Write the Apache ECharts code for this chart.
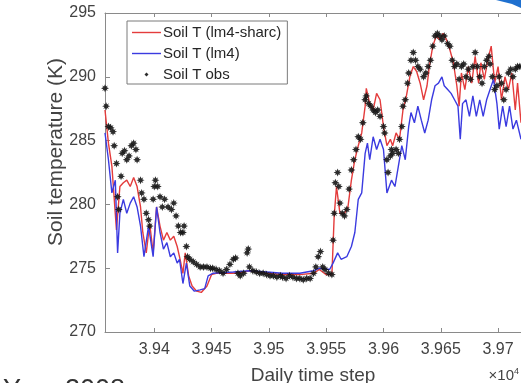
<!DOCTYPE html>
<html>
<head>
<meta charset="utf-8">
<script src="https://cdn.jsdelivr.net/npm/echarts@6/dist/echarts.min.js"></script>
<style>
html,body{margin:0;padding:0;background:#fff;}
#chart{width:521px;height:383px;}
</style>
</head>
<body>
<div id="chart"></div>
<script>
// ---- data ----
const xTicks = [39400, 39450, 39500, 39550, 39600, 39650, 39700];
const yTicks = [270, 275, 280, 285, 290, 295];

const sharcDays = [39357,39360,39363,39367,39370,39373,39376,39379,39382,39385,
  39388,39390,39393,39396,39399,39402,39405,39408,39411,39414,
  39417,39420,39422,39425,39427,39430,39433,39437,39441,39446,
  39450,39454,39469,39478,39483,39498,39512,39527,39539,39544,
  39550,39555,39557,39559,39562,39566,39569,39572,39575,39578,
  39581,39584,39585,39588,39591,39594,39597,39600,39603,39606,
  39608,39611,39614,39617,39620,39623,39626,39629,39632,39635,
  39638,39640,39643,39646,39649,39652,39655,39658,39661,39664,
  39666,39668,39671,39674,39677,39680,39683,39685,39688,39691,
  39694,39697,39700,39703,39706,39709,39712,39715,39717,39720];
const sharcTemps = [287.4,284.8,283.0,278.0,281.4,281.7,281.9,281.4,282.1,281.4,
  279.8,277.8,276.2,278.5,276.2,279.8,278.3,277.2,277.8,277.2,
  277.5,276.7,275.9,274.6,276.2,274.4,273.6,273.2,273.1,273.6,
  274.5,274.6,274.6,274.7,274.8,274.6,274.5,274.5,274.6,274.9,
  274.5,274.5,279.1,281.4,279.3,279.3,279.8,281.9,283.5,284.6,
  285.6,287.7,289.1,287.9,287.4,288.7,288.2,286.1,284.6,285.1,
  284.6,285.6,285.1,287.4,288.5,290.0,290.8,290.4,289.5,288.2,
  289.3,290.8,292.4,293.2,292.9,293.4,292.9,292.1,291.1,289.3,
  287.7,290.3,289.0,290.8,289.5,291.6,289.5,291.1,289.8,291.3,
  292.4,289.5,290.8,288.2,290.0,289.0,290.3,287.4,289.5,286.4];

const lm4Days = [39357,39360,39363,39366,39368,39370,39373,39376,39379,39382,
  39385,39388,39391,39395,39399,39402,39405,39408,39411,39414,
  39417,39420,39422,39425,39428,39431,39435,39440,39444,39447,
  39451,39469,39483,39498,39512,39527,39539,39544,39553,39556,
  39560,39563,39568,39572,39575,39578,39581,39584,39586,39588,
  39591,39594,39597,39600,39603,39607,39610,39613,39616,39619,
  39622,39624,39627,39630,39633,39636,39639,39642,39645,39648,
  39651,39653,39656,39659,39662,39665,39667,39669,39672,39675,
  39678,39681,39684,39687,39690,39693,39696,39699,39701,39704,
  39707,39710,39713,39716,39720];
const lm4Temps = [285.6,283.5,280.9,281.9,276.2,279.3,280.4,279.3,280.1,280.6,
  279.8,278.3,275.9,278.3,275.9,279.8,277.8,276.5,277.0,275.9,
  276.2,275.4,275.7,273.8,275.4,273.6,273.2,273.3,273.4,274.4,
  274.6,274.7,274.8,274.7,274.6,274.6,274.8,275.0,274.9,275.4,
  276.2,275.7,275.9,276.7,277.8,280.4,280.9,284.0,284.8,283.5,
  285.3,284.3,285.1,284.3,280.9,281.9,281.4,283.0,284.6,283.5,
  286.1,287.2,286.4,287.7,286.6,285.6,286.6,288.2,289.3,289.5,
  290.0,289.3,289.0,288.7,288.2,287.7,285.1,287.9,288.2,286.9,
  288.5,286.9,288.2,286.9,288.2,289.0,289.8,287.9,285.9,287.7,
  286.1,287.7,285.9,286.6,285.1];

const obsDays = [39357,39358,39360,39362,39364,39365,39367,39368,39369,39371,
  39372,39374,39376,39378,39380,39382,39384,39385,39388,39389,
  39391,39393,39395,39396,39399,39400,39401,39403,39405,39407,
  39409,39412,39415,39417,39419,39421,39423,39425,39426,39428,
  39429,39431,39434,39437,39440,39443,39446,39449,39451,39454,
  39457,39460,39463,39466,39469,39471,39473,39475,39478,39481,
  39482,39483,39486,39489,39492,39495,39498,39501,39504,39507,
  39510,39512,39515,39518,39521,39524,39527,39530,39533,39536,
  39539,39541,39543,39545,39547,39549,39552,39555,39556,39557,
  39558,39560,39561,39562,39564,39566,39568,39570,39572,39574,
  39576,39578,39580,39582,39584,39585,39587,39589,39591,39593,
  39595,39597,39600,39601,39603,39604,39606,39607,39608,39611,
  39613,39614,39616,39617,39619,39621,39622,39624,39626,39628,
  39630,39632,39635,39637,39639,39641,39643,39645,39647,39649,
  39651,39653,39656,39658,39660,39662,39664,39666,39668,39670,
  39672,39674,39676,39678,39680,39682,39684,39686,39688,39690,
  39692,39693,39695,39697,39699,39701,39703,39705,39707,39709,
  39711,39713,39715,39717,39719];
const obsTemps = [289.1,287.7,286.1,286.0,285.7,284.6,283.2,280.6,279.6,282.2,
  284.0,284.2,283.5,283.8,284.6,284.8,284.3,283.5,281.9,280.9,
  280.4,279.3,278.8,278.3,280.4,281.4,281.9,281.4,280.6,279.8,
  280.4,279.8,279.6,280.1,279.1,278.3,277.8,277.8,278.3,276.7,
  275.9,275.7,275.5,275.3,275.1,275.1,275.1,275.0,275.0,274.9,
  274.8,274.6,274.9,275.3,275.7,275.8,274.6,274.4,274.6,276.2,
  276.5,275.1,274.8,274.7,274.6,274.6,274.5,274.4,274.4,274.3,
  274.4,274.3,274.2,274.4,274.3,274.2,274.2,274.1,274.2,274.2,
  274.6,275.1,275.9,276.3,275.1,274.9,274.6,274.5,277.2,279.3,
  281.7,282.5,281.4,280.1,279.3,279.1,279.6,281.2,282.7,283.5,
  284.3,285.3,285.1,286.4,288.2,288.5,287.9,287.7,287.4,287.2,
  287.4,286.9,286.1,285.6,283.5,282.5,283.8,284.3,284.0,284.3,
  284.0,285.1,286.1,287.7,288.2,289.5,290.3,291.3,291.9,291.3,
  290.8,290.6,290.0,290.3,290.8,291.3,292.4,293.2,293.4,293.2,
  292.9,293.2,292.6,292.4,291.3,290.8,291.0,289.8,290.8,291.0,
  290.0,290.6,289.8,290.8,291.9,290.8,290.0,289.5,290.8,291.3,
  291.6,291.0,290.0,289.0,289.3,290.0,289.5,288.2,289.0,290.3,
  290.6,290.0,290.6,290.8,290.8];

const seriesNames = ['Soil T (lm4-sharc)', 'Soil T (lm4)', 'Soil T obs'];

const pairs = (xs, ys) => xs.map((x, i) => [x, ys[i]]);

const starPath = 'path://M0,-3L0.7,-1.3L2.12,-2.12L1.3,-0.7L3,0L1.3,0.7L2.12,2.12L0.7,1.3L0,3L-0.7,1.3L-2.12,2.12L-1.3,0.7L-3,0L-1.3,-0.7L-2.12,-2.12L-0.7,-1.3Z';
const legendDot = 'path://M0,0L0,0M14,14L14,14M7,5L9,7L7,9L5,7Z';
const legendLine = 'path://M0,0L0,0M0,14L0,14M0,6.3H29V7.7H0Z';

const axisGray = '#8a8a8a';
const tickText = '#424242';
const fontFam = 'Liberation Sans, Arial, Helvetica, sans-serif';

const chart = echarts.init(document.getElementById('chart'), null, {renderer: 'canvas'});
chart.setOption({
  animation: false,
  backgroundColor: '#ffffff',
  grid: {left: 105, top: 13, right: 0, bottom: 51},
  legend: {
    orient: 'vertical',
    left: 127, top: 21,
    padding: [4, 6, 2, 5],
    itemGap: 6,
    itemWidth: 29, itemHeight: 14,
    borderColor: '#7a7a7a', borderWidth: 1,
    backgroundColor: '#ffffff',
    textStyle: {fontSize: 15, color: '#262626', fontFamily: fontFam, padding: [0, 0, 0, -3]},
    data: [
      {name: seriesNames[0], icon: legendLine},
      {name: seriesNames[1], icon: legendLine},
      {name: seriesNames[2], icon: legendDot}
    ]
  },
  xAxis: [{
    type: 'value', position: 'bottom',
    min: 39357, max: 39720,
    axisLine: {show: true, lineStyle: {color: axisGray, width: 1}},
    axisTick: {show: true, inside: true, length: 4, customValues: xTicks, lineStyle: {color: axisGray}},
    axisLabel: {customValues: xTicks, fontSize: 16, color: tickText, fontFamily: fontFam, margin: 10,
      formatter: v => String(+(v / 10000).toFixed(4))},
    splitLine: {show: false}
  }, {
    type: 'value', position: 'top',
    min: 39357, max: 39720,
    axisLine: {show: true, onZero: false, lineStyle: {color: axisGray, width: 1}},
    axisTick: {show: true, inside: true, length: 4, customValues: xTicks, lineStyle: {color: axisGray}},
    axisLabel: {show: false},
    splitLine: {show: false}
  }],
  yAxis: {
    type: 'value', min: 270, max: 295, interval: 5,
    axisLine: {show: true, lineStyle: {color: axisGray, width: 1}},
    axisTick: {show: true, inside: true, length: 5, lineStyle: {color: axisGray}},
    axisLabel: {fontSize: 16, color: tickText, fontFamily: fontFam, margin: 9,
      customValues: yTicks},
    splitLine: {show: false}
  },
  series: [{
    name: seriesNames[0], type: 'line',
    data: pairs(sharcDays, sharcTemps),
    symbol: 'none', showSymbol: false,
    lineStyle: {color: '#e43c3c', width: 1.4},
    itemStyle: {color: '#e43c3c'},
    z: 2
  }, {
    name: seriesNames[1], type: 'line',
    data: pairs(lm4Days, lm4Temps),
    symbol: 'none', showSymbol: false,
    lineStyle: {color: '#3b3be0', width: 1.4},
    itemStyle: {color: '#3b3be0'},
    z: 3
  }, {
    name: seriesNames[2], type: 'scatter',
    data: pairs(obsDays, obsTemps),
    symbol: starPath, symbolSize: 8,
    itemStyle: {color: '#151515', opacity: 0.9},
    z: 4
  }],
  graphic: [
    {type: 'text', x: 56, y: 152, rotation: Math.PI / 2,
      style: {text: 'Soil temperature (K)', fontSize: 21, fill: '#444', fontFamily: fontFam, align: 'center', verticalAlign: 'middle'}},
    {type: 'text', x: 313, y: 376,
      style: {text: 'Daily time step', fontSize: 19, fill: '#444', fontFamily: fontFam, align: 'center', verticalAlign: 'middle'}},
    {type: 'text', x: 519, y: 376,
      style: {text: '×10{s|4}', fontSize: 15, fill: '#444', fontFamily: fontFam, align: 'right', verticalAlign: 'middle',
        rich: {s: {fontSize: 9, fill: '#444', verticalAlign: 'top', padding: [0, 0, 8, 0]}}}},
    {type: 'text', x: 3, y: 377,
      style: {text: 'Year 2008', fontSize: 27, fill: '#333', fontFamily: fontFam, verticalAlign: 'top'}},
    {type: 'polygon', shape: {points: [[496, 0], [521, 0], [521, 8], [512, 4]]},
      style: {fill: '#1f70cf'}}
  ]
});
</script>
</body>
</html>
